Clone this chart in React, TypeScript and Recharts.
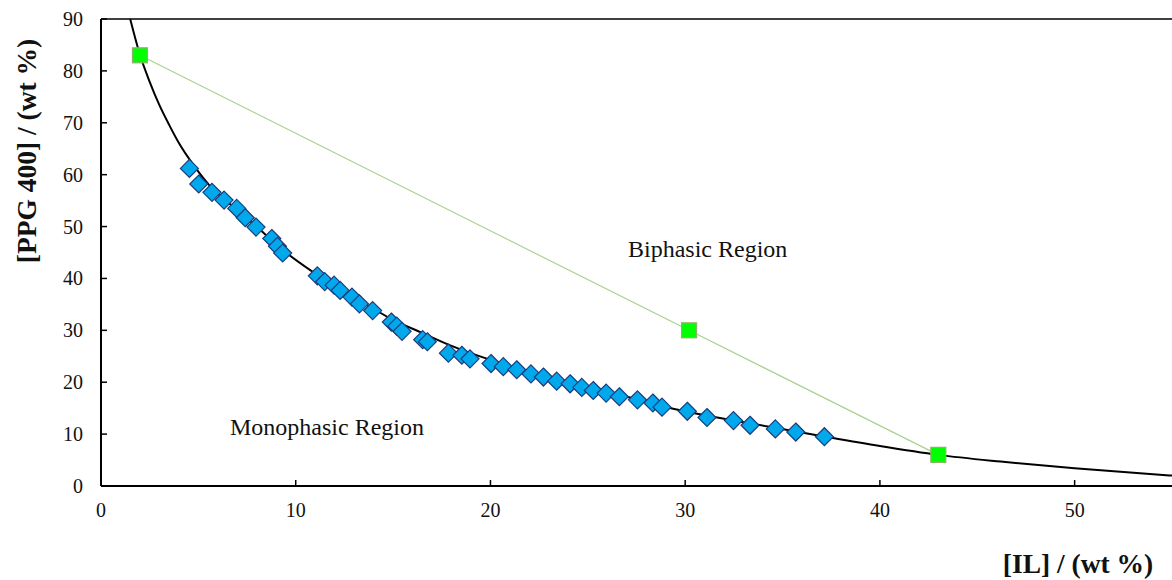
import React from "react";
import {
  ScatterChart,
  Scatter,
  XAxis,
  YAxis,
  ReferenceLine,
} from "recharts";

// binodal curve
const curveX = [1.5, 2.0, 2.5, 3.0, 3.5, 4.0, 4.8, 5.6, 7.0, 8.2, 9.5, 10.9, 12.3, 13.7, 15.0, 16.5, 18.0, 20.0, 23.6, 27.0, 30.1, 33.0, 35.7, 37.2, 40.0, 43.0, 46.2, 50.0, 55.0];
const curveY = [90, 83.1, 77.9, 73.4, 69.6, 66.1, 61.6, 57.8, 53.2, 49.3, 45.0, 41.2, 37.8, 34.8, 32.0, 29.5, 27.0, 24.3, 20.5, 17.2, 14.3, 12.3, 10.5, 9.5, 7.7, 6.0, 4.7, 3.4, 2.0];

// experimental cloud points
const expX = [4.54, 5.02, 5.70, 6.32, 6.97, 7.41, 7.96, 8.77, 9.06, 9.33, 11.11, 11.49, 11.97, 12.28, 12.89, 13.27, 13.95, 14.91, 15.19, 15.46, 16.52, 16.76, 17.84, 18.53, 18.95, 20.03, 20.66, 21.35, 22.08, 22.72, 23.40, 24.09, 24.69, 25.28, 25.94, 26.62, 27.55, 28.34, 28.81, 30.11, 31.12, 32.48, 33.33, 34.63, 35.68, 37.15];
const expY = [61.2, 58.2, 56.6, 55.1, 53.5, 51.7, 49.9, 47.7, 46.2, 44.9, 40.5, 39.4, 38.7, 37.7, 36.4, 35.1, 33.8, 31.6, 30.8, 29.8, 28.2, 27.8, 25.6, 25.2, 24.5, 23.6, 23.0, 22.4, 21.6, 21.0, 20.2, 19.7, 19.0, 18.4, 17.9, 17.2, 16.6, 16.0, 15.2, 14.4, 13.2, 12.6, 11.7, 11.0, 10.4, 9.5];

// tie line: top phase, mixture point, bottom phase
const tieX = [2.0, 30.2, 43.0];
const tieY = [83.0, 30.0, 6.0];

const xTicks = [0, 10, 20, 30, 40, 50];
const yTicks = [0, 10, 20, 30, 40, 50, 60, 70, 80, 90];

const zip = (xs: number[], ys: number[]) => xs.map((x, i) => ({ x, y: ys[i] }));
const curveData = zip(curveX, curveY);
const expData = zip(expX, expY);
const tieData = zip(tieX, tieY);

const FONT = "'Liberation Serif', 'Times New Roman', serif";
const Y_GAP = 18;
const X_GAP = 24;

const Diamond = (props: any) => {
  const { cx, cy } = props;
  const r = 9;
  return (
    <polygon
      points={`${cx},${cy - r} ${cx + r},${cy} ${cx},${cy + r} ${cx - r},${cy}`}
      fill="#00A8EC"
      stroke="#1B3C7C"
      strokeWidth={1.2}
    />
  );
};

const GreenSquare = (props: any) => {
  const { cx, cy } = props;
  const s = 15;
  return (
    <rect
      x={cx - s / 2}
      y={cy - s / 2}
      width={s}
      height={s}
      fill="#00FF00"
      stroke="#8DB36B"
      strokeWidth={1.2}
    />
  );
};

const NoShape = () => <g />;

// ticks point inward, so draw the marks ourselves next to the labels
const YTick = (props: any) => {
  const { x, y, payload } = props;
  const ax = x + Y_GAP;
  return (
    <g>
      <line x1={ax} x2={ax + 6} y1={y} y2={y} stroke="#000" strokeWidth={1.5} />
      <text x={x} y={y} textAnchor="end" dominantBaseline="central" fontFamily={FONT} fontSize={20} fill="#111">
        {payload.value}
      </text>
    </g>
  );
};

const XTick = (props: any) => {
  const { x, y, payload } = props;
  const ay = y - X_GAP;
  return (
    <g>
      {payload.value !== 0 && (
        <line x1={x} x2={x} y1={ay} y2={ay - 6} stroke="#000" strokeWidth={1.5} />
      )}
      <text x={x} y={y} textAnchor="middle" dominantBaseline="central" fontFamily={FONT} fontSize={20} fill="#111">
        {payload.value}
      </text>
    </g>
  );
};

export default function App() {
  const W = 1172;
  const H = 580;
  return (
    <div style={{ position: "absolute", left: 0, top: 0, width: W, height: H, overflow: "hidden", background: "#fff" }}>
      <ScatterChart width={W} height={H} margin={{ top: 19, right: 0, bottom: 34, left: 41 }}>
        <XAxis
          type="number"
          dataKey="x"
          domain={[0, 55]}
          ticks={xTicks}
          allowDataOverflow
          height={60}
          tickSize={0}
          tickMargin={X_GAP}
          tickLine={false}
          axisLine={{ stroke: "#000", strokeWidth: 2 }}
          tick={<XTick />}
        />
        <YAxis
          type="number"
          dataKey="y"
          domain={[0, 90]}
          ticks={yTicks}
          allowDataOverflow
          width={60}
          tickSize={0}
          tickMargin={Y_GAP}
          tickLine={false}
          axisLine={{ stroke: "#000", strokeWidth: 2 }}
          tick={<YTick />}
        />
        <ReferenceLine y={90} stroke="#000" strokeWidth={1.5} />
        <Scatter
          data={curveData}
          line={{ stroke: "#000", strokeWidth: 2 }}
          lineType="joint"
          lineJointType="monotoneX"
          shape={<NoShape />}
          isAnimationActive={false}
        />
        <Scatter data={expData} shape={<Diamond />} isAnimationActive={false} />
        <Scatter
          data={tieData}
          line={{ stroke: "#A9D18E", strokeWidth: 1.2 }}
          lineType="joint"
          shape={<GreenSquare />}
          isAnimationActive={false}
        />
      </ScatterChart>
      <svg width={W} height={H} style={{ position: "absolute", left: 0, top: 0, pointerEvents: "none" }}>
        <text x={628} y={257} fontFamily={FONT} fontSize={24} fill="#111">
          Biphasic Region
        </text>
        <text x={230} y={435} fontFamily={FONT} fontSize={24} fill="#111">
          Monophasic Region
        </text>
        <text
          x={26}
          y={151}
          transform="rotate(-90 26 151)"
          textAnchor="middle"
          dominantBaseline="central"
          fontFamily={FONT}
          fontSize={27.5}
          fontWeight="bold"
          fill="#111"
        >
          [PPG 400] / (wt %)
        </text>
        <text x={1078} y={573} textAnchor="middle" fontFamily={FONT} fontSize={27.5} fontWeight="bold" fill="#111">
          [IL] / (wt %)
        </text>
      </svg>
    </div>
  );
}
